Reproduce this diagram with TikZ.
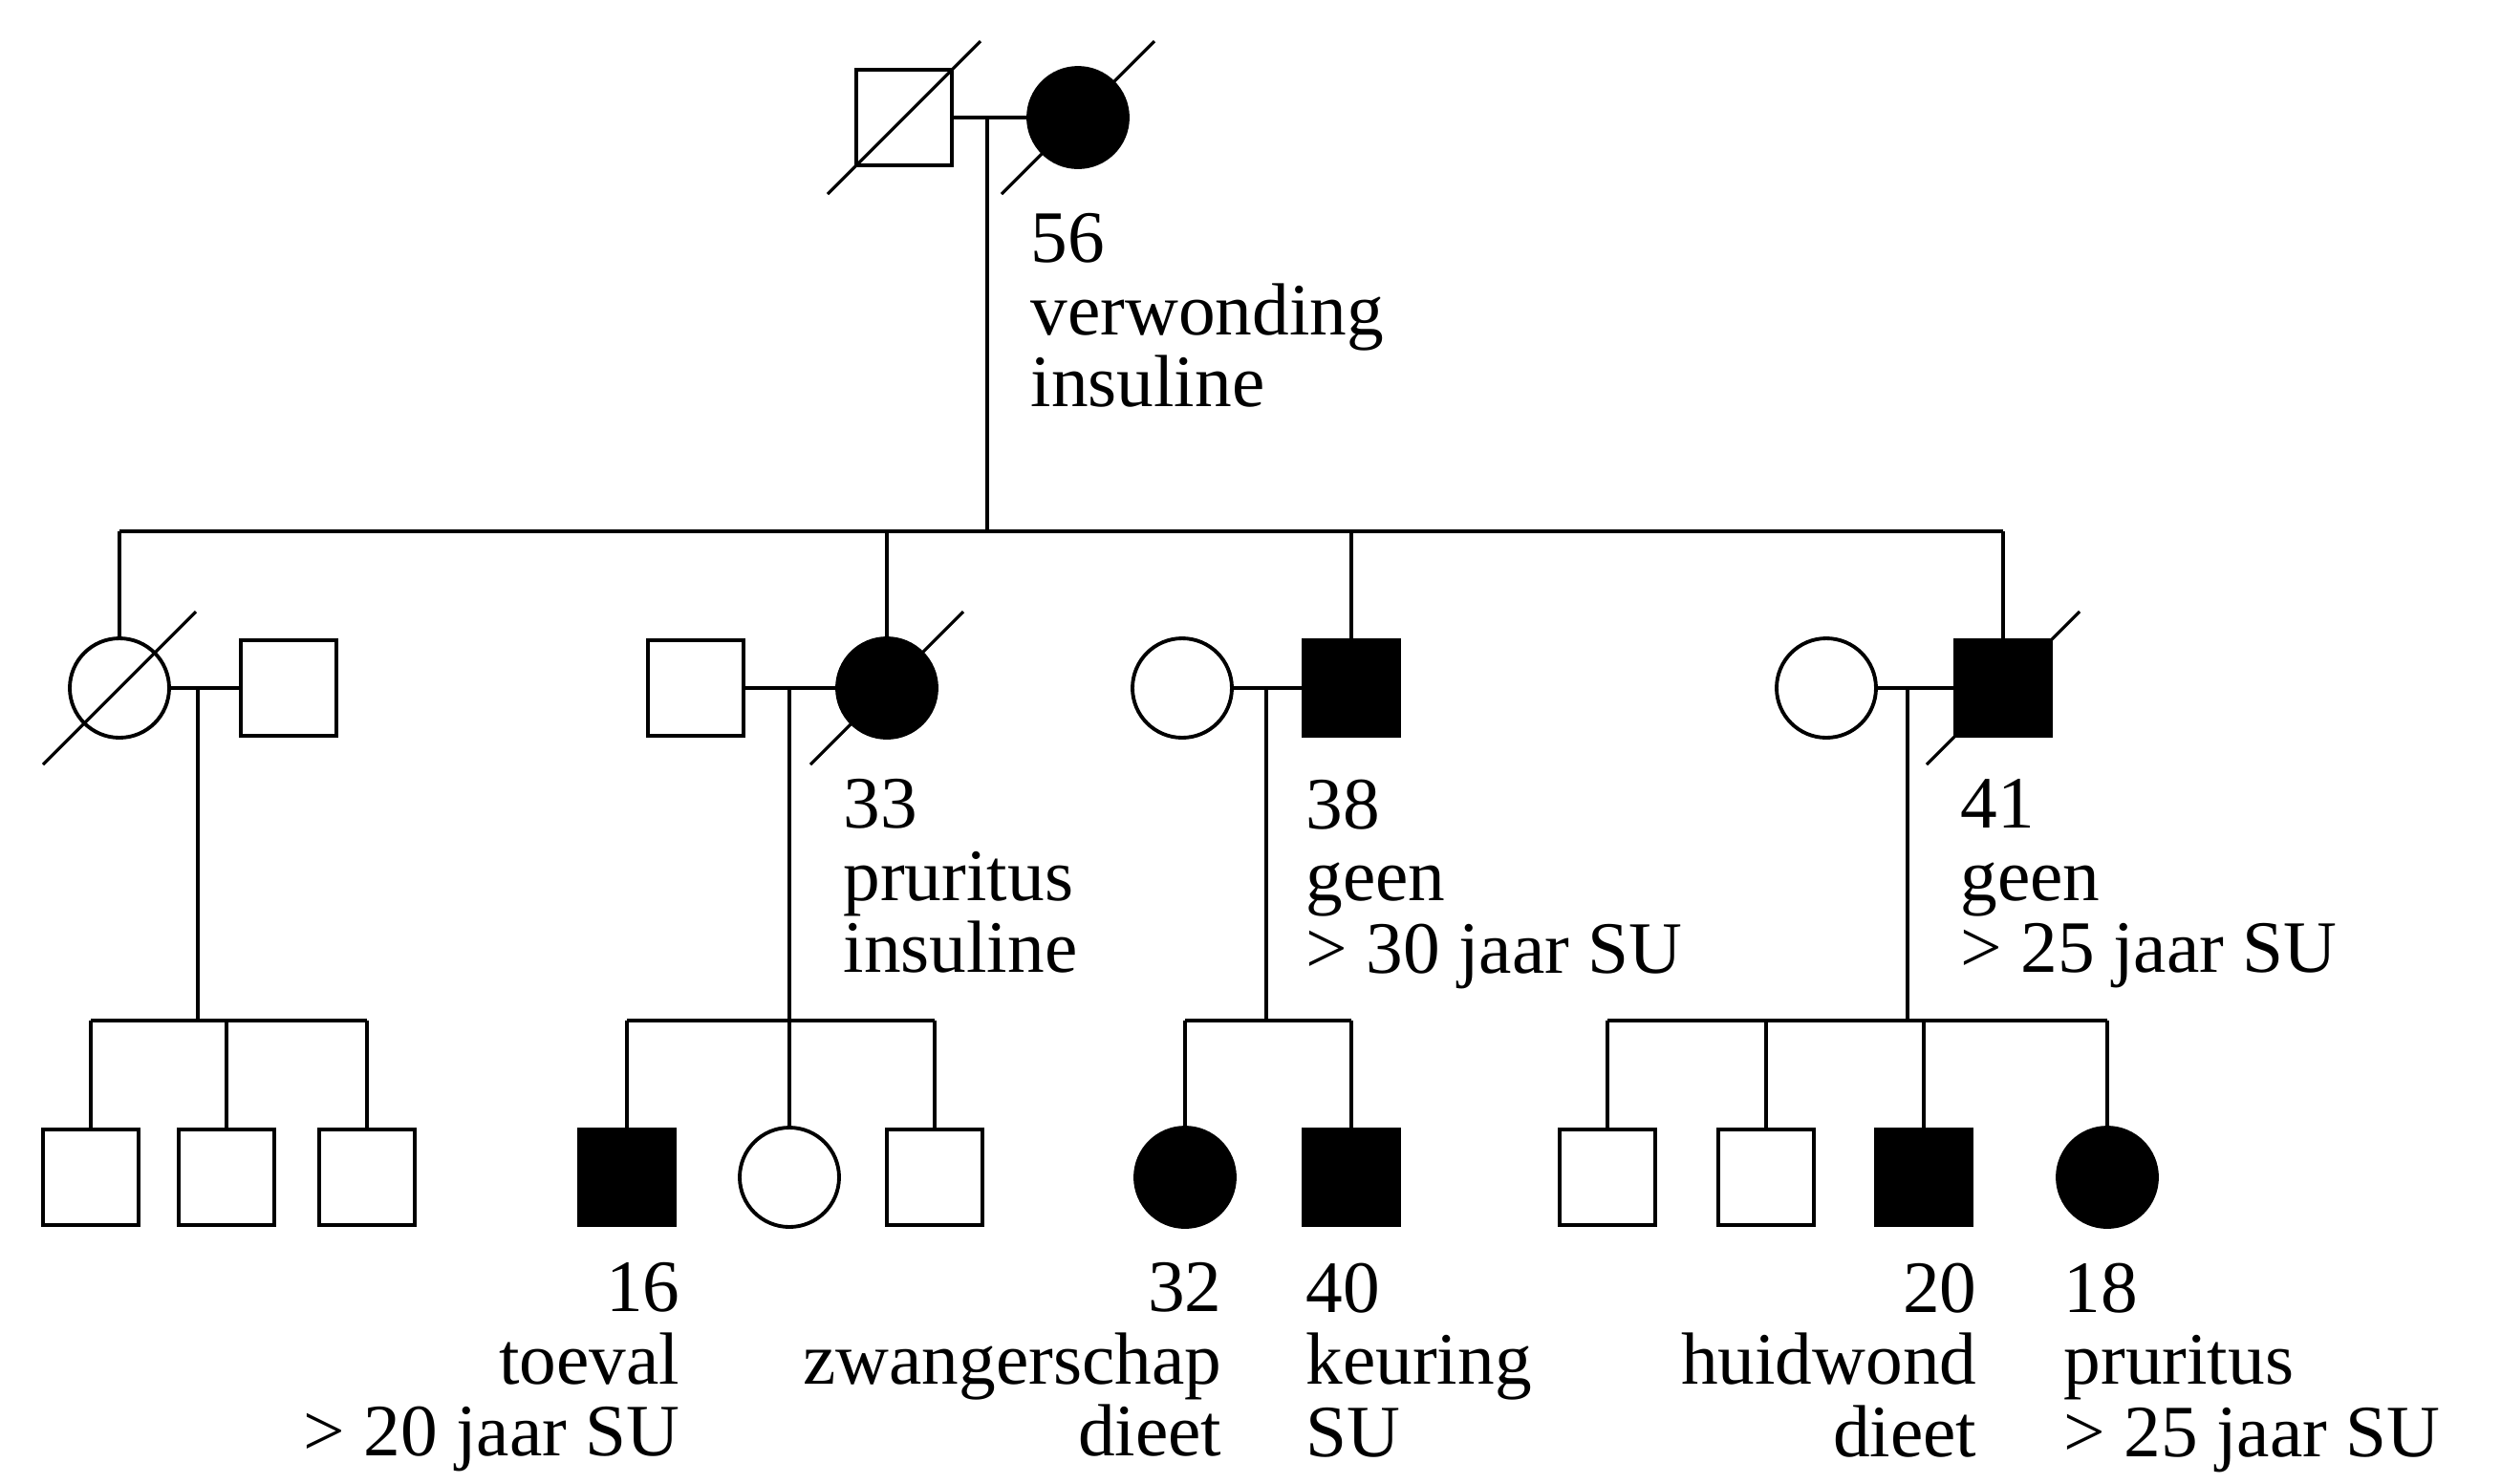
\documentclass[tikz,border=0pt]{standalone}
\usepackage{fontspec}
\setmainfont{Liberation Serif}
\usetikzlibrary{positioning,calc}

\begin{document}
\begin{tikzpicture}[line width=0.9pt,
    male/.style={draw,line width=1.1pt,minimum size=1cm,inner sep=0pt},
    female/.style={draw,circle,line width=1.1pt,minimum size=1.04cm,inner sep=0pt},
    affected/.style={fill=black},
    lbl/.style={inner sep=0pt,font=\fontsize{22}{21.5}\selectfont}]
    \useasboundingbox (0,0) rectangle (26.17,-15.52);
    % generation I
    \node[male] (gf) at (9.46,-1.23) {};
    \node[female,affected] (gm) at (11.28,-1.23) {};
    \node[lbl,align=left,anchor=north west] (lgm) at (10.77,-2.22) {56\\verwonding\\insuline};
    % generation II
    \node[female] (a1) at (1.25,-7.2) {};
    \node[male] (a1p) at (3.02,-7.2) {};
    \node[male] (b1p) at (7.28,-7.2) {};
    \node[female,affected] (b1) at (9.28,-7.2) {};
    \node[female] (c1p) at (12.37,-7.2) {};
    \node[male,affected] (c1) at (14.14,-7.2) {};
    \node[female] (d1p) at (19.11,-7.2) {};
    \node[male,affected] (d1) at (20.96,-7.2) {};
    \node[lbl,align=left,anchor=north west] (lb1) at (8.81,-8.14) {33\\pruritus\\insuline};
    \node[lbl,align=left,anchor=north west] (lc1) at (13.65,-8.14) {38\\geen\\> 30 jaar SU};
    \node[lbl,align=left,anchor=north west] (ld1) at (20.50,-8.14) {41\\geen\\> 25 jaar SU};
    % generation III
    \node[male] (a2) at (0.95,-12.32) {};
    \node[male] (a3) at (2.37,-12.32) {};
    \node[male] (a4) at (3.84,-12.32) {};
    \node[male,affected] (b2) at (6.56,-12.32) {};
    \node[female] (b3) at (8.26,-12.32) {};
    \node[male] (b4) at (9.78,-12.32) {};
    \node[female,affected] (c2) at (12.40,-12.32) {};
    \node[male,affected] (c3) at (14.14,-12.32) {};
    \node[male] (d2) at (16.82,-12.32) {};
    \node[male] (d3) at (18.48,-12.32) {};
    \node[male,affected] (d4) at (20.13,-12.32) {};
    \node[female,affected] (d5) at (22.05,-12.32) {};
    \node[lbl,align=right,anchor=north east] (lb2) at (7.13,-13.2) {16\\toeval\\> 20 jaar SU};
    \node[lbl,align=right,anchor=north east] (lc2) at (12.80,-13.2) {32\\zwangerschap\\dieet};
    \node[lbl,align=left,anchor=north west] (lc3) at (13.65,-13.2) {40\\keuring\\SU};
    \node[lbl,align=right,anchor=north east] (ld4) at (20.70,-13.2) {20\\huidwond\\dieet};
    \node[lbl,align=left,anchor=north west] (ld5) at (21.58,-13.2) {18\\pruritus\\> 25 jaar SU};
    % marriages
    \draw (gf) -- (gm);
    \draw (a1) -- (a1p);
    \draw (b1p) -- (b1);
    \draw (c1p) -- (c1);
    \draw (d1p) -- (d1);
    % descent lines
    \coordinate (m0) at (10.33,-1.23);
    \coordinate (s0) at (10.33,-5.56);
    \draw (m0) -- (s0);
    \draw (a1 |- s0) -- (d1 |- s0);
    \foreach \n in {a1,b1,c1,d1} \draw (\n |- s0) -- (\n);
    \coordinate (m1) at (2.07,-7.2);
    \coordinate (s1) at (2.07,-10.68);
    \draw (m1) -- (s1);
    \draw (a2 |- s1) -- (a4 |- s1);
    \foreach \n in {a2,a3,a4} \draw (\n |- s1) -- (\n);
    \coordinate (m2) at (8.26,-7.2);
    \coordinate (s2) at (8.26,-10.68);
    \draw (m2) -- (s2);
    \draw (b2 |- s2) -- (b4 |- s2);
    \foreach \n in {b2,b3,b4} \draw (\n |- s2) -- (\n);
    \coordinate (m3) at (13.25,-7.2);
    \coordinate (s3) at (13.25,-10.68);
    \draw (m3) -- (s3);
    \draw (c2 |- s3) -- (c3 |- s3);
    \foreach \n in {c2,c3} \draw (\n |- s3) -- (\n);
    \coordinate (m4) at (19.96,-7.2);
    \coordinate (s4) at (19.96,-10.68);
    \draw (m4) -- (s4);
    \draw (d2 |- s4) -- (d5 |- s4);
    \foreach \n in {d2,d3,d4,d5} \draw (\n |- s4) -- (\n);
    % deceased
    \foreach \n in {gf,gm,a1,b1,d1}
      \draw ($(\n)+(-0.8,-0.8)$) -- ($(\n)+(0.8,0.8)$);
\end{tikzpicture}
\end{document}
